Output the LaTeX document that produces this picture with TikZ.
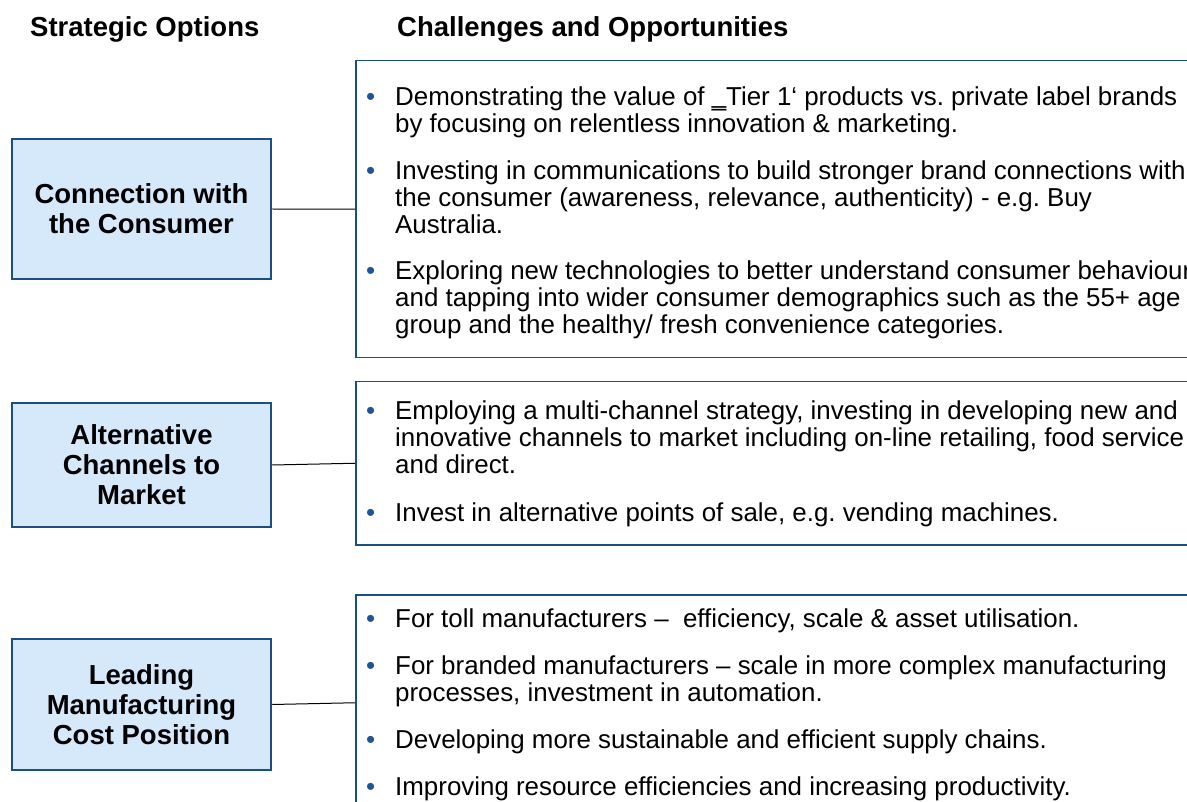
\documentclass[tikz,border=0pt]{standalone}
\usepackage{fontspec}
\setmainfont{Liberation Sans}
\usetikzlibrary{positioning}
\definecolor{optline}{HTML}{1B4F82}
\definecolor{optfill}{HTML}{D5E9FB}
\definecolor{bulletblue}{HTML}{1F5596}
\newcommand{\bul}{\textcolor{bulletblue}{\textbullet}}
\frenchspacing

\begin{document}
\begin{tikzpicture}[x=1pt, y=-1pt,
  option/.style={rectangle, draw=optline, fill=optfill, line width=2.5pt, minimum width=259pt, align=center, inner sep=0pt, font=\fontsize{27.5}{30}\selectfont\bfseries},
  panel/.style={rectangle, draw=optline, line width=1.5pt, anchor=north west, minimum width=860pt, inner sep=0pt},
  points/.style={anchor=north west, inner sep=0pt, font=\fontsize{25.9}{26.7}\selectfont},
  heading/.style={anchor=base west, inner sep=0pt, font=\fontsize{27.5}{30}\selectfont\bfseries},
  link/.style={black, line width=1pt}
]
  \useasboundingbox (0,0) rectangle (1187,802);
  \clip (0,0) rectangle (1187,802);

  % column titles
  \node[heading] (optTitle) at (30, 37) {Strategic Options};
  \node[heading] (chalTitle) at (397, 37) {Challenges and Opportunities};

  % strategic options
  \node[option, minimum height=140pt] (consumer) at (141.5, 209) {Connection with\\the Consumer};
  \node[option, minimum height=124pt] (channels) at (141.5, 465) {Alternative\\Channels to\\Market};
  \node[option, minimum height=131pt] (cost) at (141.5, 704.5) {Leading\\Manufacturing\\Cost Position};

  % challenge panels
  \node[panel, minimum height=297pt] (consumerPanel) at (355, 60) {};
  \node[panel, minimum height=163pt] (channelsPanel) at (355, 381) {};
  \node[panel, minimum height=216pt] (costPanel) at (355, 594) {};

  \draw[link] (consumer.east) -- (consumerPanel.west);
  \draw[link] (channels.east) -- (channelsPanel.west);
  \draw[link] (cost.east) -- (costPanel.west);

  % bullet points
  \node[points] (consumerPoints) at (366, 87) {\begin{tabular}{@{}p{29pt}@{}l@{}}
    \bul & Demonstrating the value of ‗Tier 1‘ products vs. private label brands\\
         & by focusing on relentless innovation \& marketing.\\[20pt]
    \bul & Investing in communications to build stronger brand connections with\\
         & the consumer (awareness, relevance, authenticity) - e.g. Buy\\
         & Australia.\\[20pt]
    \bul & Exploring new technologies to better understand consumer behaviour\\
         & and tapping into wider consumer demographics such as the 55+ age\\
         & group and the healthy/ fresh convenience categories.
  \end{tabular}};
  \node[points] (channelsPoints) at (366, 401) {\begin{tabular}{@{}p{29pt}@{}l@{}}
    \bul & Employing a multi-channel strategy, investing in developing new and\\
         & innovative channels to market including on-line retailing, food service\\
         & and direct.\\[21pt]
    \bul & Invest in alternative points of sale, e.g. vending machines.
  \end{tabular}};
  \node[points] (costPoints) at (366, 609) {\begin{tabular}{@{}p{29pt}@{}l@{}}
    \bul & For toll manufacturers –\ \ efficiency, scale \& asset utilisation.\\[20pt]
    \bul & For branded manufacturers – scale in more complex manufacturing\\
         & processes, investment in automation.\\[20pt]
    \bul & Developing more sustainable and efficient supply chains.\\[20pt]
    \bul & Improving resource efficiencies and increasing productivity.
  \end{tabular}};
\end{tikzpicture}
\end{document}
